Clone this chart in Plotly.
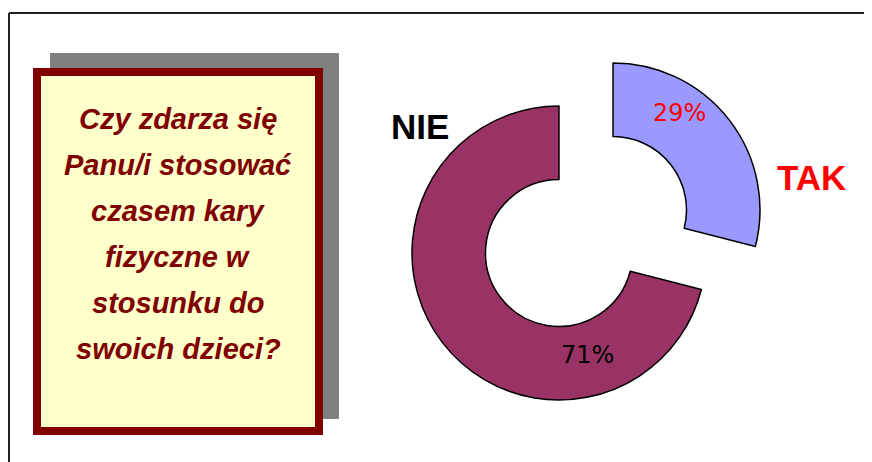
import plotly.graph_objects as go

# page body adds an 8px margin, so the figure is 8px smaller each way
OFF = 8
W, H = 872 - OFF, 462 - OFF

labels = ["TAK", "NIE"]
values = [29, 71]
colors = ["#9999FF", "#993366"]
label_colors = ["#FF0000", "#000000"]
pct_colors = ["#FF0000", "#000000"]

title_lines = [
    "Czy zdarza się",
    "Panu/i stosować",
    "czasem kary",
    "fizyczne w",
    "stosunku do",
    "swoich dzieci?",
]


def px(x):
    return (x - OFF) / W


def py(y):
    return 1 - (y - OFF) / H


def dom(cx, cy, r):
    return dict(x=[px(cx - r), px(cx + r)], y=[py(cy + r), py(cy - r)])


R = 147
fig = go.Figure()

# NIE ring (TAK slot left empty), then the exploded TAK slice
fig.add_trace(go.Pie(
    labels=labels, values=values, sort=False, direction="clockwise",
    hole=0.5, textinfo="none", showlegend=False,
    marker=dict(colors=["rgba(0,0,0,0)", colors[1]],
                line=dict(color=["rgba(0,0,0,0)", "black"], width=[0, 1.5])),
    domain=dom(559, 253, R),
))
fig.add_trace(go.Pie(
    labels=labels, values=values, sort=False, direction="clockwise",
    hole=0.5, textinfo="none", showlegend=False,
    marker=dict(colors=[colors[0], "rgba(0,0,0,0)"],
                line=dict(color=["black", "rgba(0,0,0,0)"], width=[1.5, 0])),
    domain=dom(613, 210, R),
))

shapes = [
    # frame
    dict(type="line", x0=px(9), x1=1, y0=py(13), y1=py(13), line=dict(color="#222", width=2)),
    dict(type="line", x0=px(9), x1=px(9), y0=py(13), y1=0, line=dict(color="#222", width=2)),
    # shadow
    dict(type="rect", x0=px(50), x1=px(339), y0=py(419), y1=py(53),
         fillcolor="#808080", line=dict(width=0), layer="below"),
    # question box
    dict(type="rect", x0=px(37), x1=px(319), y0=py(431), y1=py(72),
         fillcolor="#FFFFCC", line=dict(color="#800000", width=8), layer="below"),
]

annotations = []
for i, line in enumerate(title_lines):
    annotations.append(dict(
        text=f"<b><i>{line}</i></b>", x=px(178), y=py(119 + 46 * i),
        xref="paper", yref="paper", xanchor="center", yanchor="middle", showarrow=False,
        font=dict(family="Liberation Sans, Arial", size=29, color="#800000"),
    ))

label_pos = [(811, 177), (420, 126)]
pct_pos = [(679, 113), (587, 355)]
total = sum(values)
for i, lab in enumerate(labels):
    annotations.append(dict(
        text=f"<b>{lab}</b>", x=px(label_pos[i][0]), y=py(label_pos[i][1]),
        xref="paper", yref="paper", xanchor="center", yanchor="middle", showarrow=False,
        font=dict(family="Liberation Sans, Arial", size=35, color=label_colors[i]),
    ))
    annotations.append(dict(
        text=f"{round(values[i] / total * 100)}%", x=px(pct_pos[i][0]), y=py(pct_pos[i][1]),
        xref="paper", yref="paper", xanchor="center", yanchor="middle", showarrow=False,
        font=dict(family="DejaVu Sans", size=24, color=pct_colors[i]),
    ))

fig.update_layout(
    width=W, height=H,
    margin=dict(l=0, r=0, t=0, b=0),
    paper_bgcolor="white", plot_bgcolor="white",
    shapes=shapes, annotations=annotations,
)

fig.write_html("out.html")
